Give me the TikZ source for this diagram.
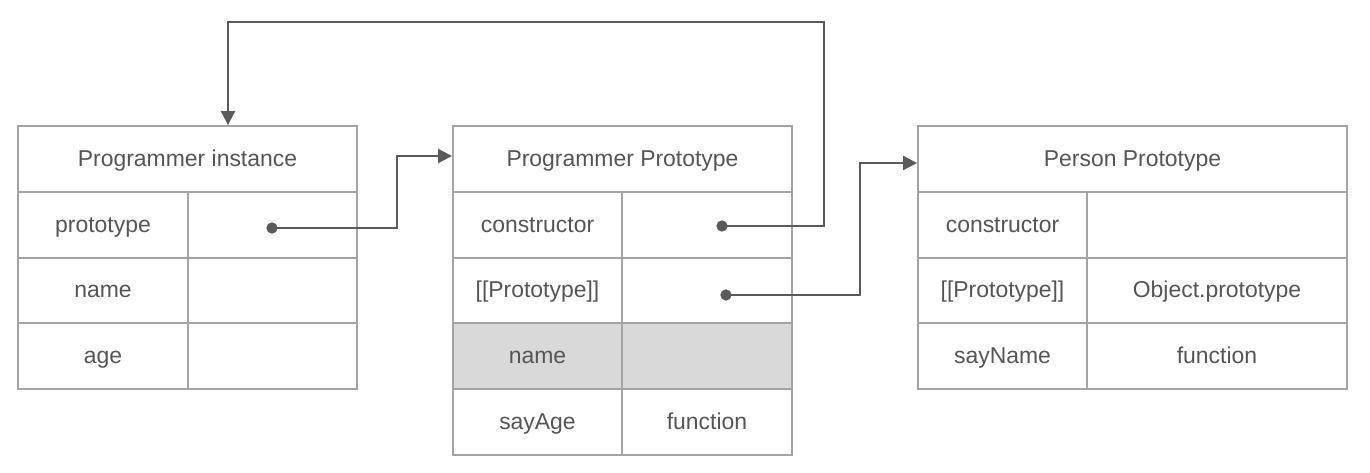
\documentclass[tikz,border=0pt]{standalone}
\usepackage{fontspec}
\setmainfont{Liberation Sans}
\usetikzlibrary{arrows.meta}
\definecolor{boxgray}{HTML}{A3A3A3}
\definecolor{txtgray}{HTML}{555555}
\definecolor{conngray}{HTML}{5A5A5A}
\definecolor{shade}{HTML}{D9D9D9}
\tikzset{
  cellst/.style={draw=boxgray, line width=1.4pt, text=txtgray, inner sep=0pt,
    text height=13.5pt, text depth=3pt,
    font=\fontsize{17.2}{20}\selectfont, rectangle},
  conn/.style={draw=conngray, line width=1.5pt},
  arr/.style={-{Triangle[length=10.5pt,width=10.5pt]}},
  dotst/.style={circle, fill=conngray, inner sep=0pt, minimum size=8.5pt}
}
\newcommand\cellbox[7]{%
  \node[cellst, fill=#6, minimum width={(#4-#2)*0.75pt}, minimum height={(#5-#3)*0.75pt}]
    (#1) at ({(#2+#4)/2},{(#3+#5)/2}) {#7};}
\begin{document}
\begin{tikzpicture}[x=0.75pt,y=-0.75pt]
\useasboundingbox (0,0) rectangle (1370,472);
% Box 1: Programmer instance
\cellbox{t1}{18}{126}{357}{192}{white}{Programmer instance}
\cellbox{a1}{18}{192}{188}{258}{white}{prototype}
\cellbox{a2}{188}{192}{357}{258}{white}{}
\cellbox{b1}{18}{258}{188}{323}{white}{name}
\cellbox{b2}{188}{258}{357}{323}{white}{}
\cellbox{c1}{18}{323}{188}{389}{white}{age}
\cellbox{c2}{188}{323}{357}{389}{white}{}
% Box 2: Programmer Prototype
\cellbox{t2}{453}{126}{792}{192}{white}{Programmer Prototype}
\cellbox{e1}{453}{192}{622}{258}{white}{constructor}
\cellbox{e2}{622}{192}{792}{258}{white}{}
\cellbox{f1}{453}{258}{622}{323}{white}{[[Prototype]]}
\cellbox{f2}{622}{258}{792}{323}{white}{}
\cellbox{g1}{453}{323}{622}{389}{shade}{name}
\cellbox{g2}{622}{323}{792}{389}{shade}{}
\cellbox{h1}{453}{389}{622}{455}{white}{sayAge}
\cellbox{h2}{622}{389}{792}{455}{white}{function}
% Box 3: Person Prototype
\cellbox{t3}{918}{126}{1347}{192}{white}{Person Prototype}
\cellbox{p1}{918}{192}{1087}{258}{white}{constructor}
\cellbox{p2}{1087}{192}{1347}{258}{white}{}
\cellbox{q1}{918}{258}{1087}{323}{white}{[[Prototype]]}
\cellbox{q2}{1087}{258}{1347}{323}{white}{Object.prototype}
\cellbox{r1}{918}{323}{1087}{389}{white}{sayName}
\cellbox{r2}{1087}{323}{1347}{389}{white}{function}
% dots
\node[dotst] (d1) at (272,228) {};
\node[dotst] (d2) at (722,226) {};
\node[dotst] (d3) at (726,295) {};
% bends
\coordinate (k1) at (397,228);
\coordinate (k2) at (824,226);
\coordinate (k3) at (824,22);
\coordinate (k4) at (228,22);
\coordinate (k5) at (860,295);
% connectors
\draw[conn,arr] (d1.center) -- (k1) |- ([yshift=2.25pt]t2.west);
\draw[conn,arr] (d2.center) -- (k2) -- (k3) -- (k4) -- (k4 |- t1.north);
\draw[conn,arr] (d3.center) -- (k5) |- ([yshift=-3pt]t3.west);
\end{tikzpicture}
\end{document}
